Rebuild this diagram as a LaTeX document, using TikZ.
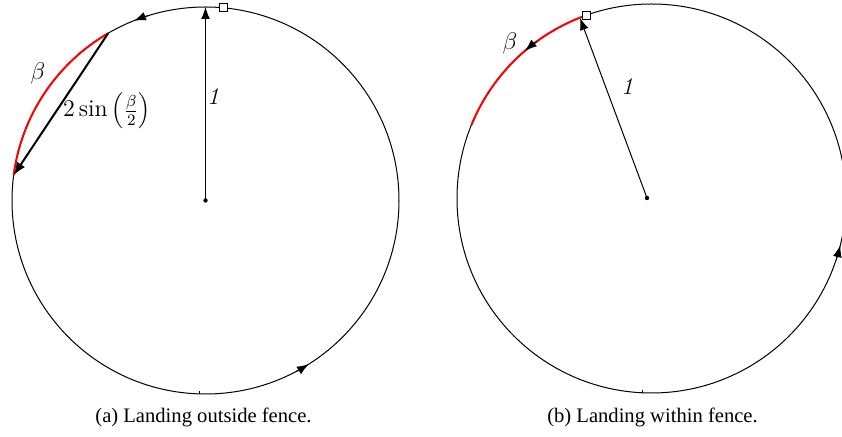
\documentclass[tikz,border=0pt]{standalone}
\usepackage{fontspec}
\newfontfamily\capfont{Liberation Serif}
\usetikzlibrary{arrows.meta,calc}
\begin{document}
\begin{tikzpicture}[x=0.5pt,y=-0.5pt,
  circ/.style={line width=0.5pt},
  tipA/.style={-{Latex[length=6pt,width=4.4pt]}},
  tipB/.style={-{Latex[length=6.5pt,width=5pt]},line width=1pt},
  redarc/.style={red,line width=1pt},
  fencebox/.style={draw,fill=white,line width=0.5pt,minimum size=4pt,inner sep=0pt},
  dotc/.style={circle,fill,inner sep=0pt,minimum size=2.2pt},
  lbl/.style={font=\fontsize{12}{14}\selectfont},
  captext/.style={anchor=base,font=\capfont\fontsize{10.3}{12}\selectfont}]
\useasboundingbox (0,0) rectangle (842,437);
% ---------- (a) ----------
\coordinate (c1) at (205.5,200.5);
\draw[circ] (c1) circle[radius=96.75pt];
\draw[redarc] ($(c1)+(120.2:96.75pt)$) arc[start angle=120.2,end angle=172.5,radius=96.75pt];
\coordinate (a1) at ($(c1)+(120.2:96.75pt)$);
\coordinate (a2) at ($(c1)+(172.5:96.75pt)$);
\draw[tipB] (a1) -- (a2);
\coordinate (top1) at ($(c1)+(90:96.75pt)$);
\node[dotc] (d1) at (c1) {};
\draw[tipA,line width=0.5pt] (c1) -- (top1);
\draw[tipA,line width=0.5pt] ($(c1)+(107:96.75pt)$) arc[start angle=107,end angle=111.7,radius=96.75pt];
\draw[tipA,line width=0.5pt] ($(c1)+(-62:96.75pt)$) arc[start angle=-62,end angle=-57.7,radius=96.75pt];
\coordinate (t1) at ($(c1)+(-91.8:96.75pt)$);
\draw[line width=0.4pt] (t1) -- ++(0,-2.5);
\node[fencebox] (f1) at ($(c1)+(84.7:96.75pt)$) {};
\node[lbl] (beta1) at (38,74) {$\beta$};
\node[lbl] (chord1) at (107,111) {$2\sin\left(\frac{\beta}{2}\right)$};
\node[lbl] (one1) at (213,97) {\textit{1}};
\node[captext] (capa) at (203.5,423) {(a) Landing outside fence.};
% ---------- (b) ----------
\coordinate (c2) at (651.5,198.5);
\coordinate (o2) at (647,198);
\draw[circ] (c2) circle[radius=97.25pt];
\draw[redarc] ($(c2)+(109.6:97.25pt)$) arc[start angle=109.6,end angle=157.8,radius=97.25pt];
\draw[tipA,line width=0.5pt] ($(c2)+(126:97.25pt)$) arc[start angle=126,end angle=130.6,radius=97.25pt];
\draw[tipA,line width=0.5pt] ($(c2)+(-18:97.25pt)$) arc[start angle=-18,end angle=-13.9,radius=97.25pt];
\coordinate (t2) at ($(c2)+(-92.7:97.25pt)$);
\draw[line width=0.4pt] (t2) -- ++(0,-2.5);
\node[dotc] (d2) at (o2) {};
\coordinate (r2) at (580,18);
\draw[tipA,line width=0.5pt] (o2) -- (r2);
\node[fencebox] (f2) at ($(c2)+(109.6:97.25pt)$) {};
\node[lbl] (beta2) at (510,44) {$\beta$};
\node[lbl] (one2) at (627,87) {\textit{1}};
\node[captext] (capb) at (652.5,423) {(b) Landing within fence.};
\end{tikzpicture}
\end{document}
